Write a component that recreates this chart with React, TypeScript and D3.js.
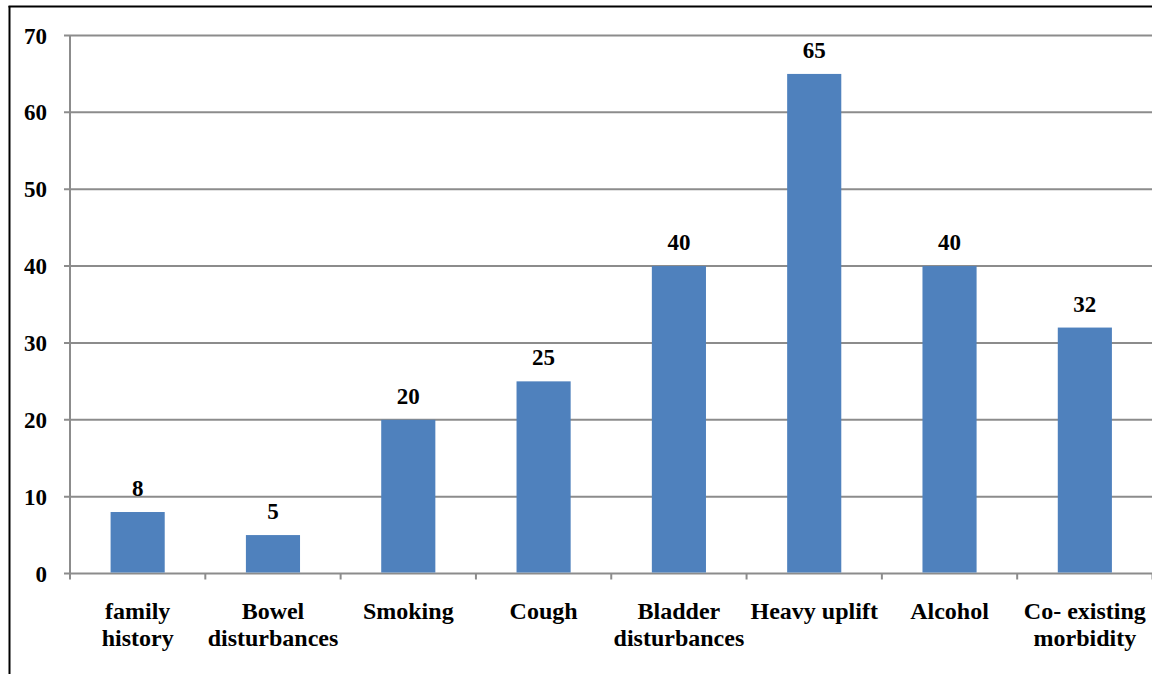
import React from "react";
import * as d3 from "d3";

const categories: string[][] = [
  ["family", "history"],
  ["Bowel", "disturbances"],
  ["Smoking"],
  ["Cough"],
  ["Bladder", "disturbances"],
  ["Heavy uplift"],
  ["Alcohol"],
  ["Co- existing", "morbidity"],
];
const values: number[] = [8, 5, 20, 25, 40, 65, 40, 32];
const yTicks: number[] = [0, 10, 20, 30, 40, 50, 60, 70];

const W = 1152;
const H = 674;
const left = 70;
const right = 1152.5;
const top = 35.5;
const bottom = 573.5;
const FONT = "Liberation Serif, Times New Roman, Times, serif";

export default function App() {
  const keys = categories.map((_, i) => String(i));
  const x = d3.scaleBand<string>().domain(keys).range([left, right]).paddingInner(0.6).paddingOuter(0.3);
  const xb = d3.scaleBand<string>().domain(keys).range([left, right]).padding(0);
  const y = d3.scaleLinear().domain([0, 70]).range([bottom, top]);
  const grid = "#8c8c8c";
  return (
    <svg width={W} height={H} style={{ position: "absolute", left: 0, top: 0, background: "#fff" }}>
      <line x1={9.5} y1={6} x2={9.5} y2={H} stroke="#000" strokeWidth={2} />
      <line x1={8.5} y1={6.5} x2={W} y2={6.5} stroke="#000" strokeWidth={2} />
      {yTicks.map((t) => (
        <g key={t}>
          <line x1={64} x2={right} y1={y(t)} y2={y(t)} stroke={grid} strokeWidth={2} />
          <text x={47} y={y(t)} dy="0.35em" textAnchor="end" fontFamily={FONT} fontWeight="bold" fontSize={23}>
            {t}
          </text>
        </g>
      ))}
      <line x1={left} x2={left} y1={top} y2={bottom + 6} stroke={grid} strokeWidth={2} />
      {keys.map((k) => (
        <line key={k} x1={(xb(k) as number) + xb.bandwidth()} x2={(xb(k) as number) + xb.bandwidth()} y1={bottom} y2={bottom + 6} stroke={grid} strokeWidth={2} />
      ))}
      {values.map((v, i) => (
        <rect key={i} x={x(String(i))} y={y(v)} width={x.bandwidth()} height={bottom - 1 - y(v)} fill="#4f81bd" />
      ))}
      {values.map((v, i) => (
        <text key={i} x={(x(String(i)) as number) + x.bandwidth() / 2} y={y(v) - 16} textAnchor="middle" fontFamily={FONT} fontWeight="bold" fontSize={23}>
          {v}
        </text>
      ))}
      {categories.map((lines, i) => (
        <text key={i} textAnchor="middle" fontFamily={FONT} fontWeight="bold" fontSize={24}>
          {lines.map((l, j) => (
            <tspan key={j} x={(xb(String(i)) as number) + xb.bandwidth() / 2} y={619 + j * 27}>
              {l}
            </tspan>
          ))}
        </text>
      ))}
    </svg>
  );
}
